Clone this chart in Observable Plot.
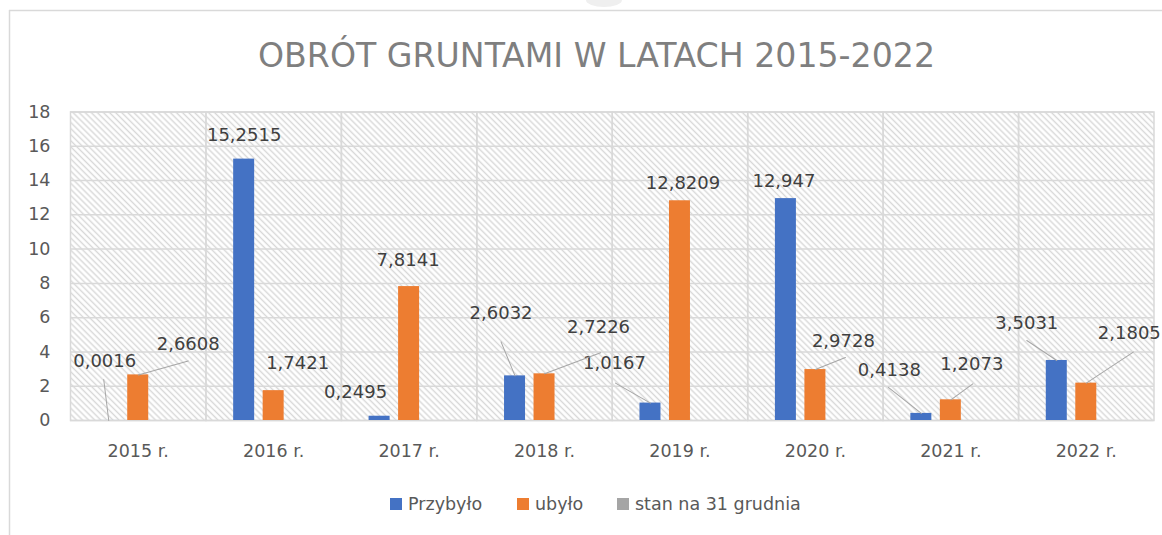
<!DOCTYPE html>
<html><head><meta charset="utf-8">
<script src="https://cdn.jsdelivr.net/npm/d3@7"></script>
<script src="https://cdn.jsdelivr.net/npm/@observablehq/plot@0.6"></script>
<style>
body{margin:0;background:#fff;}
#wrap{position:relative;width:1162px;height:535px;overflow:hidden;background:#fff;font-family:"DejaVu Sans",sans-serif;}
#deco{position:absolute;left:0;top:0;}
#chart{position:absolute;left:0;top:0;}
.lg{position:absolute;top:495px;height:18px;display:flex;align-items:center;font-size:17.5px;color:#595959;white-space:nowrap;}
.lg i{display:inline-block;width:12px;height:12px;margin-right:6px;}
</style></head>
<body>
<div id="wrap">
<svg id="deco" width="1162" height="535">
  <defs>
    <pattern id="hatch" patternUnits="userSpaceOnUse" width="4.3" height="4.3" patternTransform="rotate(-45)">
      <rect width="4.3" height="4.3" fill="#ffffff"/>
      <line x1="2.15" y1="-1" x2="2.15" y2="5.3" stroke="#d8d8d8" stroke-width="1.4"/>
    </pattern>
  </defs>
  <ellipse cx="604" cy="0" rx="18" ry="7" fill="#efefef"/>
  <line x1="9" y1="10.5" x2="1162" y2="10.5" stroke="#d9d9d9" stroke-width="1.5"/>
  <line x1="9.5" y1="10" x2="9.5" y2="535" stroke="#d9d9d9" stroke-width="1.5"/>
  <text id="title" x="596.5" y="67" text-anchor="middle" textLength="677" lengthAdjust="spacingAndGlyphs"
    style="font-family:'Liberation Sans Narrow','DejaVu Sans Condensed','Liberation Sans',sans-serif;font-size:34px;fill:#7f7f7f">OBRÓT GRUNTAMI W LATACH 2015-2022</text>
</svg>
<div id="chart"></div>
<div id="legend"></div>
</div>
<script>
// ---- data ----
const years = ["2015 r.", "2016 r.", "2017 r.", "2018 r.", "2019 r.", "2020 r.", "2021 r.", "2022 r."];
const seriesNames = ["Przybyło", "ubyło", "stan na 31 grudnia"];
const przybylo = [0.0016, 15.2515, 0.2495, 2.6032, 1.0167, 12.947, 0.4138, 3.5031];
const ubylo = [2.6608, 1.7421, 7.8141, 2.7226, 12.8209, 2.9728, 1.2073, 2.1805];
const stan = [null, null, null, null, null, null, null, null];
const seriesColors = ["#4472c4", "#ed7d31", "#a5a5a5"];
const yTicks = [0, 2, 4, 6, 8, 10, 12, 14, 16, 18];

// ---- label layout (px offsets from bar top: label dx, dy, leader end dx, dy) ----
const przybyloLabelLayout = [
  [-4, -59, -5, -41], [0, -24], [-24, -24], [-14, -63, -14, -34],
  [-36, -40, -35, -20], [-2, -17], [-32, -43, -33, -26], [-30, -37, -30, -20]
];
const ubyloLabelLayout = [
  [50, -31, 50, -14], [24, -27], [-1, -26], [54, -47, 56, -21],
  [3, -18], [28, -28, 30, -12], [21, -36, 22, -16], [43, -50, 47, -31]
];
const stanLabelLayout = years.map(() => [0, -20]);

const allValues = [przybylo, ubylo, stan];
const allLayouts = [przybyloLabelLayout, ubyloLabelLayout, stanLabelLayout];
const rows = [];
allValues.forEach((vals, s) => vals.forEach((v, i) => {
  if (v != null) rows.push({year: years[i], series: seriesNames[s], value: v, layout: allLayouts[s][i]});
}));
const fmt = v => String(v).replace(".", ",");

const lineShape = {draw(context, l) { context.moveTo(0, 0); context.lineTo(0, -l); }};

const labelMarks = rows.flatMap(r => {
  const [dx, dy, ex, ey] = r.layout;
  const ms = [];
  if (ex != null) {
    ms.push(Plot.vector([r], {
      fx: "year", x: "series", y: "value", anchor: "start",
      length: Math.hypot(ex, ey), rotate: Math.atan2(ex, -ey) * 180 / Math.PI,
      shape: lineShape, stroke: "#a6a6a6", strokeWidth: 1
    }));
  }
  ms.push(Plot.text([r], {
    fx: "year", x: "series", y: "value", text: d => fmt(d.value),
    dx, dy, fill: "#404040", fontSize: 18
  }));
  return ms;
});

const chart = Plot.plot({
  width: 1162, height: 535,
  marginLeft: 70, marginRight: 8.5, marginTop: 111.5, marginBottom: 115,
  style: {fontFamily: "DejaVu Sans, sans-serif", fontSize: "17.5px", color: "#595959", background: "transparent", overflow: "visible"},
  fx: {domain: years, padding: 0, round: false, axis: "bottom", label: null, tickSize: 0, tickPadding: 24},
  x: {domain: seriesNames, paddingInner: 0.288, paddingOuter: 0.94, round: false, axis: null},
  y: {domain: [0, 18], ticks: yTicks, label: null, tickSize: 0, tickPadding: 20},
  color: {domain: seriesNames, range: seriesColors},
  marks: [
    Plot.frame({fill: "url(#hatch)", stroke: "none"}),
    Plot.ruleY(yTicks, {stroke: "#d9d9d9", strokeWidth: 1.5}),
    Plot.frame({stroke: "#d9d9d9", strokeWidth: 1.5}),
    Plot.barY(rows, {fx: "year", x: "series", y: "value", fill: "series"}),
    ...labelMarks
  ]
});
document.getElementById("chart").appendChild(chart);

// ---- legend ----
const legendLeft = [390, 517, 617];
const legend = document.getElementById("legend");
seriesNames.forEach((name, i) => {
  const d = document.createElement("div");
  d.className = "lg";
  d.style.left = legendLeft[i] + "px";
  d.innerHTML = `<i style="background:${seriesColors[i]}"></i><span>${name}</span>`;
  legend.appendChild(d);
});
</script>
</body></html>
